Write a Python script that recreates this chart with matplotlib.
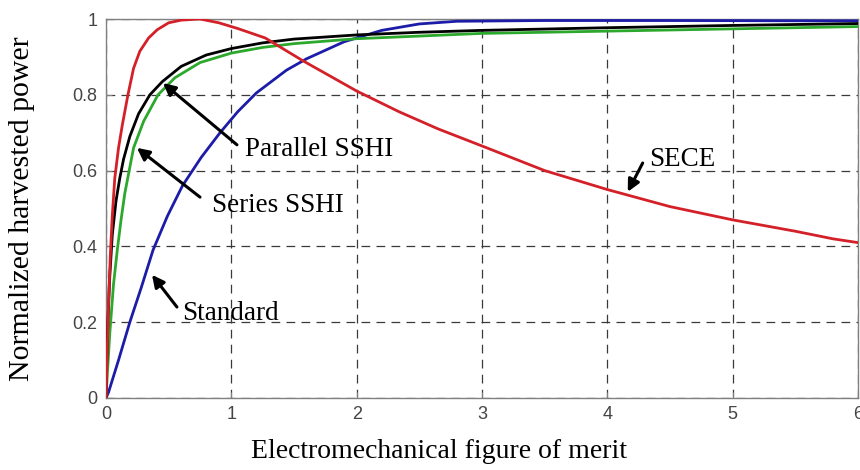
import matplotlib
matplotlib.use("Agg")
import matplotlib.pyplot as plt

# Data (x = electromechanical figure of merit)
standard_x = [0, 0.02, 0.1, 0.19, 0.28, 0.375, 0.49, 0.61, 0.76, 0.91, 1.05, 1.2, 1.44, 1.6, 1.9, 2.2, 2.5, 2.8, 3.5, 4.5, 6.0]
standard_y = [0, 0.015, 0.1, 0.2, 0.29, 0.39, 0.48, 0.56, 0.635, 0.70, 0.755, 0.805, 0.865, 0.895, 0.94, 0.97, 0.987, 0.994, 0.996, 0.996, 0.995]

sece_x = [0, 0.01, 0.02, 0.035, 0.05, 0.07, 0.1, 0.13, 0.175, 0.22, 0.27, 0.34, 0.41, 0.5, 0.6, 0.75, 0.9, 1.05, 1.27, 1.57, 2.0, 2.34, 2.65, 3.0, 3.5, 4.0, 4.5, 5.0, 5.5, 5.8, 6.0]
sece_y = [0, 0.13, 0.25, 0.38, 0.48, 0.58, 0.66, 0.72, 0.8, 0.87, 0.915, 0.95, 0.972, 0.99, 0.997, 1.0, 0.99, 0.975, 0.95, 0.89, 0.81, 0.755, 0.71, 0.665, 0.6, 0.55, 0.505, 0.47, 0.44, 0.42, 0.41]

parallel_x = [0, 0.005, 0.015, 0.03, 0.05, 0.08, 0.11, 0.14, 0.19, 0.26, 0.35, 0.45, 0.6, 0.8, 1.0, 1.25, 1.5, 2.0, 2.5, 3.0, 4.0, 5.0, 6.0]
parallel_y = [0, 0.08, 0.2, 0.32, 0.43, 0.52, 0.58, 0.63, 0.69, 0.75, 0.8, 0.835, 0.875, 0.905, 0.922, 0.937, 0.947, 0.958, 0.965, 0.97, 0.977, 0.983, 0.988]

series_x = [0, 0.01, 0.03, 0.06, 0.09, 0.12, 0.15, 0.185, 0.22, 0.3, 0.415, 0.55, 0.75, 1.0, 1.25, 1.5, 2.0, 2.5, 3.0, 4.0, 5.0, 6.0]
series_y = [0, 0.06, 0.17, 0.3, 0.39, 0.47, 0.54, 0.6, 0.66, 0.73, 0.8, 0.845, 0.885, 0.91, 0.925, 0.935, 0.948, 0.955, 0.962, 0.968, 0.974, 0.98]

x_ticks = [0, 1, 2, 3, 4, 5, 6]
x_tick_labels = ["0", "1", "2", "3", "4", "5", "6"]
y_ticks = [0, 0.2, 0.4, 0.6, 0.8, 1.0]
y_tick_labels = ["0", "0.2", "0.4", "0.6", "0.8", "1"]

fig = plt.figure(figsize=(8.6, 4.7), dpi=100)
ax = fig.add_axes([106 / 860, 1 - 398 / 470, (858 - 106) / 860, (398 - 19) / 470])

lw = 2.0
ax.plot(standard_x, standard_y, color="#1c1ca8", lw=lw, zorder=3)
ax.plot(series_x, series_y, color="#2ca82c", lw=lw, zorder=4)
ax.plot(parallel_x, parallel_y, color="#000000", lw=lw, zorder=5)
ax.plot(sece_x, sece_y, color="#d42028", lw=lw, zorder=6)

ax.set_xlim(0, 6)
ax.set_ylim(0, 1)
ax.set_xticks(x_ticks)
ax.set_xticklabels(x_tick_labels)
ax.set_yticks(y_ticks)
ax.set_yticklabels(y_tick_labels)

ax.grid(True, color="#3a3a3a", lw=0.9, linestyle=(0, (7, 5)))
ax.set_axisbelow(True)

for s in ax.spines.values():
    s.set_color("#808080")
    s.set_linewidth(1.0)

ax.tick_params(direction="in", length=4, color="#808080", labelcolor="#444444",
               labelsize=13, pad=6)
for lab in ax.get_xticklabels() + ax.get_yticklabels():
    lab.set_family("Liberation Sans")

serif = "Liberation Serif"
ax.set_xlabel("Electromechanical figure of merit", family=serif, fontsize=20)
ax.set_ylabel("Normalized harvested power", family=serif, fontsize=21.5)
ax.xaxis.set_label_coords((439 - 106) / 752, (398 - 452) / 379)
ax.yaxis.set_label_coords((22 - 106) / 752, 0.5)
ax.xaxis.label.set_va("center")
ax.yaxis.label.set_va("center")

arrow = dict(arrowstyle="-|>", lw=2.2, color="black", mutation_scale=18, shrinkA=0, shrinkB=0)
annots = [
    ("Parallel SSHI", (0.455, 0.831), (1.045, 0.668), (1.11, 0.639)),
    ("Series SSHI", (0.247, 0.66), (0.75, 0.53), (0.845, 0.491)),
    ("Standard", (0.367, 0.325), (0.566, 0.24), (0.606, 0.206)),
    ("SECE", (4.163, 0.544), (4.282, 0.62), (4.33, 0.612)),
]
for label, tip, tail, tpos in annots:
    ax.annotate("", xy=tip, xytext=tail, arrowprops=arrow, zorder=7)
    ax.text(tpos[0], tpos[1], label, family=serif, fontsize=19.5, va="baseline", ha="left", zorder=7)

fig.savefig("out.png", dpi=100)
